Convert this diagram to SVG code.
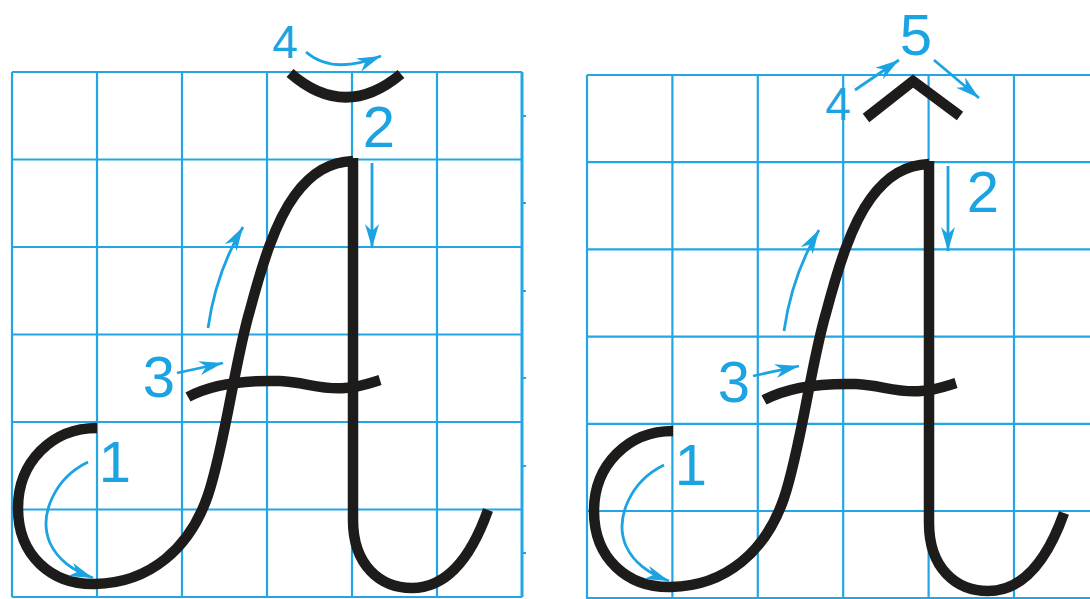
<svg xmlns="http://www.w3.org/2000/svg" xmlns:xlink="http://www.w3.org/1999/xlink" width="1090" height="599" viewBox="0 0 1090 599">
  <style>
    .grid { stroke: #22a6e4; stroke-width: 2.2; fill: none; }
    .edge { stroke: #22a6e4; stroke-width: 3; fill: none; }
    .ink { stroke: #1e1b1b; stroke-width: 10.5; fill: none; stroke-linecap: butt; stroke-linejoin: miter; }
    .arr { stroke: #1ba3e2; stroke-width: 2.8; fill: none; marker-end: url(#head); }
    .num { fill: #1ba3e2; font-family: "Liberation Sans", Arial, sans-serif; font-size: 58px; text-anchor: middle; }
    .small { font-size: 46px; }
  </style>
  <defs>
    <marker id="head" markerUnits="userSpaceOnUse" markerWidth="26" markerHeight="16" refX="24" refY="7" orient="auto">
      <path d="M0,0 L24,7 L0,14 L7,7 Z" fill="#1ba3e2"/>
    </marker>
    <g id="letterA">
      <path class="ink" d="M97,428 C52,428 18,462 18,508 C18,556 52,585 95,584 C150,583 190,548 208,495 C225,445 235,360 250,310 C262,265 275,222 295,195 C312,172 330,162 353,161"/>
      <path class="ink" d="M353,158 L353,520 C353,565 380,588 412,588 C448,588 472,555 488,510"/>
      <path class="ink" d="M188,397 C210,385 240,380 280,381 C305,382 320,390 345,388 C360,387 370,383 380,380"/>
      <path class="arr" d="M88,462 C55,478 38,515 50,543 C58,560 72,570 93,578"/>
      <path class="arr" d="M208,328 Q216,272 243,227"/>
      <path class="arr" d="M177,373 L223,363"/>
      <path class="arr" d="M372,163 L372,248"/>
      <text class="num" x="115" y="482">1</text>
    </g>
  </defs>

  <g id="grid-left">
    <path class="grid" d="M12,72 V597 M97,72 V597 M182,72 V597 M267,72 V597 M352,72 V597 M437,72 V597"/>
    <path class="grid" d="M12,72 H522 M12,159.5 H522 M12,247 H522 M12,334.5 H522 M12,422 H522 M12,509.5 H522 M12,597 H522"/>
    <path class="edge" d="M522,72 V597"/>
    <path class="grid" d="M522,116 h4 M522,203 h4 M522,291 h4 M522,378 h4 M522,466 h4 M522,553 h4"/>
  </g>

  <g id="grid-right">
    <path class="grid" d="M587,75 V599 M672.4,75 V599 M757.8,75 V599 M843.2,75 V599 M928.6,75 V599 M1014,75 V599"/>
    <path class="grid" d="M587,75 H1090 M587,162.2 H1090 M587,249.4 H1090 M587,336.6 H1090 M587,423.8 H1090 M587,511 H1090 M587,598 H1090"/>
  </g>

  <g id="letter-a-breve">
    <use xlink:href="#letterA" href="#letterA"/>
    <path class="ink" d="M290,73 Q345,121 401,74"/>
    <path class="arr" d="M306,52 C322,66 346,70 381,56"/>
    <text class="num" x="379" y="147">2</text>
    <text class="num" x="159" y="397">3</text>
    <text class="num small" x="285" y="58">4</text>
  </g>

  <g id="letter-a-circumflex">
    <use xlink:href="#letterA" href="#letterA" transform="translate(576,3)"/>
    <path class="ink" d="M866,118 L913,81 L960,116"/>
    <path class="arr" d="M855,90 L899,60"/>
    <path class="arr" d="M934,60 L979,98"/>
    <text class="num" x="983" y="212">2</text>
    <text class="num" x="734" y="402">3</text>
    <text class="num small" x="838" y="120">4</text>
    <text class="num" x="916" y="55">5</text>
  </g>
</svg>
